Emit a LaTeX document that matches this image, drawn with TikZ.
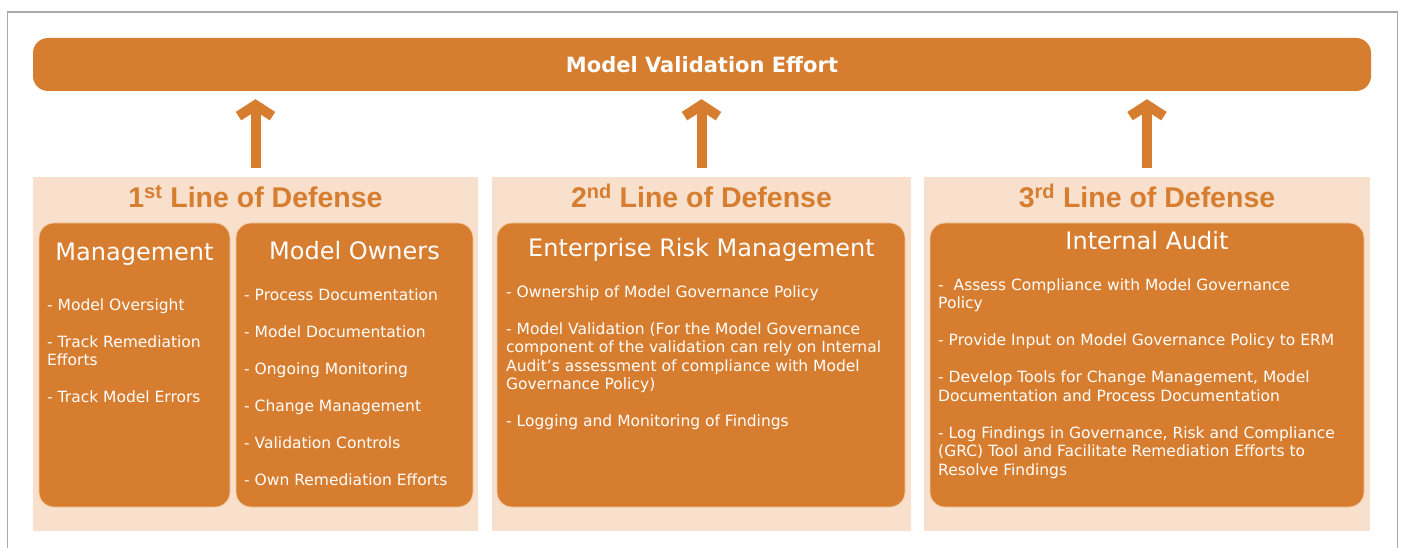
\documentclass[tikz,border=0pt]{standalone}
\usepackage{fontspec}
\setmainfont{DejaVu Sans}
\newfontfamily\headfont{Liberation Sans}
\usepackage{tikz}
\usetikzlibrary{arrows.meta,positioning}
\definecolor{mvorange}{RGB}{215,125,47}
\definecolor{mvpeach}{RGB}{248,224,204}
\definecolor{mvedge}{RGB}{242,200,160}
\definecolor{mvframe}{RGB}{170,170,170}

\begin{document}
\begin{tikzpicture}[x=1pt,y=-1pt,
    panel/.style={fill=mvpeach,rectangle,inner sep=0pt},
    inbox/.style={fill=mvorange,draw=mvedge,line width=0.8pt,rounded corners=15pt,inner sep=0pt,minimum height=284pt},
    linehead/.style={text=mvorange,font=\headfont\bfseries\fontsize{28.5}{30}\selectfont,inner sep=0pt},
    boxhead/.style={text=white,font=\fontsize{24}{26}\selectfont,inner sep=0pt},
    items/.style={text=white,align=left,inner sep=0pt,font=\fontsize{15.5}{18.5}\selectfont},
    uparrow/.style={draw=mvorange,line width=10pt,-{Straight Barb[length=11pt 0,width=34pt 0]},shorten <=9pt,shorten >=8pt}]
\useasboundingbox (0,0) rectangle (1403,548);
\draw[mvframe,line width=1.5pt] (7.5,548) -- (7.5,12) -- (1397.5,12) -- (1397.5,548);
% top bar
\node[fill=mvorange,rounded corners=15pt,minimum width=1338pt,minimum height=53pt,inner sep=0pt,
      text=white,font=\bfseries\fontsize{21}{23}\selectfont] (effort) at (702,64.5) {Model Validation Effort};
% three lines of defense
\node[panel,minimum width=445pt,minimum height=354pt] (line1) at (255.5,354) {};
\node[panel,minimum width=419pt,minimum height=354pt] (line2) at (701.5,354) {};
\node[panel,minimum width=446pt,minimum height=354pt] (line3) at (1147,354) {};
\node[linehead,anchor=base] (head1) at (255.5,208) {1\textsuperscript{st} Line of Defense};
\node[linehead,anchor=base] (head2) at (701.5,208) {2\textsuperscript{nd} Line of Defense};
\node[linehead,anchor=base] (head3) at (1147,208) {3\textsuperscript{rd} Line of Defense};
\draw[uparrow] (line1.north) -- (line1.north |- effort.south);
\draw[uparrow] (line2.north) -- (line2.north |- effort.south);
\draw[uparrow] (line3.north) -- (line3.north |- effort.south);
% first line
\node[inbox,minimum width=191pt] (mgmt) at (134.5,365) {};
\node[boxhead,anchor=base] (mgmthead) at (134.5,260.5) {Management};
\node[items,anchor=north west] (mgmtlist) at (47,298.5)
    {- Model Oversight\\[18.5pt]
     - Track Remediation\\Efforts\\[18.5pt]
     - Track Model Errors};
\node[inbox,minimum width=237pt] (owners) at (354.5,365) {};
\node[boxhead,anchor=base] (ownershead) at (354.5,259.5) {Model Owners};
\node[items,anchor=north west] (ownerslist) at (244,288.5)
    {- Process Documentation\\[18.5pt]
     - Model Documentation\\[18.5pt]
     - Ongoing Monitoring\\[18.5pt]
     - Change Management\\[18.5pt]
     - Validation Controls\\[18.5pt]
     - Own Remediation Efforts};
% second line
\node[inbox,minimum width=408pt] (erm) at (701,365) {};
\node[boxhead,anchor=base] (ermhead) at (701.5,256.5) {Enterprise Risk Management};
\node[items,anchor=north west] (ermlist) at (506,285.5)
    {- Ownership of Model Governance Policy\\[18.5pt]
     - Model Validation (For the Model Governance\\
     component of the validation can rely on Internal\\
     Audit's assessment of compliance with Model\\
     Governance Policy)\\[18.5pt]
     - Logging and Monitoring of Findings};
% third line
\node[inbox,minimum width=434pt] (audit) at (1147,365) {};
\node[boxhead,anchor=base] (audithead) at (1147,249.5) {Internal Audit};
\node[items,anchor=north west] (auditlist) at (938,278.5)
    {-\ \ Assess Compliance with Model Governance\\Policy\\[18.5pt]
     - Provide Input on Model Governance Policy to ERM\\[18.5pt]
     - Develop Tools for Change Management, Model\\
     Documentation and Process Documentation\\[18.5pt]
     - Log Findings in Governance, Risk and Compliance\\
     (GRC) Tool and Facilitate Remediation Efforts to\\
     Resolve Findings};
\end{tikzpicture}
\end{document}
